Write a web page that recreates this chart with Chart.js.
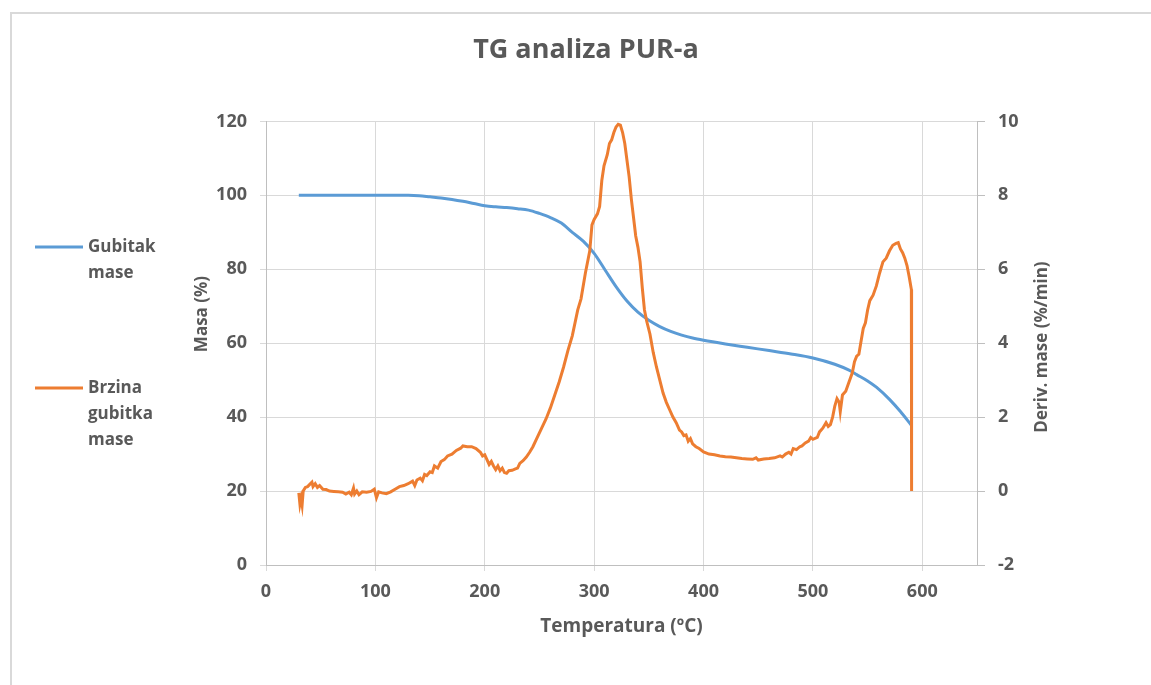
<!DOCTYPE html>
<html>
<head>
<meta charset="utf-8">
<script src="https://cdn.jsdelivr.net/npm/chart.js@4"></script>
<style>
  html, body { margin: 0; padding: 0; background: #fff; }
  #wrap { position: relative; width: 1151px; height: 685px; overflow: hidden; }
  #frame { position: absolute; left: 10px; top: 12px; width: 1150px; height: 680px; border: 2px solid #d9d9d9; box-sizing: border-box; }
  #tgChart { position: absolute; left: 0; top: 0; }
</style>
</head>
<body>
<div id="wrap">
  <div id="frame"></div>
  <canvas id="tgChart" width="1151" height="685"></canvas>
</div>
<script>
// mass loss curve (TG)
const masaTemp = [30, 60, 100, 130, 140, 150, 160, 170, 180, 190, 200, 210, 220, 230, 240, 250, 260, 270, 280, 290, 300, 310, 320, 330, 340, 350, 360, 370, 380, 390, 400, 420, 440, 460, 480, 500, 520, 533, 540, 550, 558, 570, 580, 590];
const masaVal  = [100, 100, 100, 100, 99.9, 99.6, 99.3, 98.9, 98.4, 97.8, 97.2, 96.9, 96.7, 96.4, 96.0, 95.1, 94.0, 92.5, 90.0, 87.6, 84.3, 79.8, 75.3, 71.4, 68.4, 66.2, 64.5, 63.2, 62.2, 61.4, 60.8, 59.8, 58.9, 58.0, 57.1, 56.0, 54.3, 52.7, 51.5, 49.8, 48.1, 44.8, 41.5, 37.8];

// derivative curve (DTG)
const derivTemp = [30, 31, 32, 33, 34, 36, 38, 40, 42, 43, 45, 47, 49, 52, 55, 58, 62, 66, 70, 73, 76, 78, 80, 81, 83, 85, 88, 92, 96, 99, 101, 103, 106, 110, 114, 118, 122, 126, 130, 134, 136, 138, 141, 143, 145, 147, 150, 152, 154, 157, 160, 163, 166, 170, 174, 178, 180, 184, 188, 192, 196, 198, 200, 202, 204, 206, 208, 210, 212, 214, 216, 218, 220, 222, 225, 228, 230, 232, 235, 238, 241, 244, 248, 252, 256, 260, 264, 268, 272, 276, 280, 285, 288, 292, 296, 298, 300, 303, 305, 307, 309, 312, 314, 316, 318, 320, 322, 324, 326, 328, 330, 332, 334, 336, 338, 340, 342, 344, 346, 348, 351, 354, 357, 360, 363, 366, 369, 372, 375, 378, 380, 382, 384, 386, 388, 390, 393, 396, 400, 405, 410, 415, 420, 425, 430, 435, 440, 445, 448, 450, 455, 460, 465, 470, 472, 475, 478, 480, 482, 485, 488, 490, 493, 496, 498, 500, 504, 506, 509, 512, 514, 516, 518, 520, 522, 524, 525, 527, 530, 533, 536, 538, 540, 542, 544, 546, 548, 550, 552, 555, 558, 561, 564, 567, 570, 573, 576, 578, 580, 582, 584, 586, 588, 590, 590.2];
const derivVal  = [-0.05, -0.35, -0.2, -0.38, 0.0, 0.1, 0.12, 0.18, 0.24, 0.12, 0.2, 0.1, 0.15, 0.05, 0.04, 0.0, -0.01, -0.02, -0.03, -0.08, -0.03, -0.1, 0.08, -0.08, 0.0, -0.1, -0.02, -0.03, -0.01, 0.05, -0.18, -0.02, -0.05, -0.07, -0.02, 0.05, 0.12, 0.15, 0.2, 0.27, 0.15, 0.3, 0.35, 0.28, 0.45, 0.42, 0.52, 0.5, 0.68, 0.62, 0.8, 0.85, 0.95, 1.0, 1.1, 1.16, 1.22, 1.2, 1.2, 1.15, 1.05, 0.95, 0.98, 0.85, 0.72, 0.8, 0.68, 0.58, 0.68, 0.55, 0.62, 0.5, 0.48, 0.55, 0.56, 0.6, 0.62, 0.75, 0.82, 0.92, 1.05, 1.2, 1.45, 1.7, 1.95, 2.25, 2.6, 2.95, 3.35, 3.8, 4.2, 4.9, 5.2, 5.9, 6.5, 7.2, 7.35, 7.5, 7.7, 8.4, 8.8, 9.1, 9.4, 9.5, 9.7, 9.85, 9.92, 9.9, 9.7, 9.4, 8.95, 8.5, 7.9, 7.4, 6.9, 6.6, 6.2, 5.5, 4.9, 4.6, 4.25, 3.75, 3.35, 3.0, 2.65, 2.4, 2.2, 2.0, 1.85, 1.65, 1.6, 1.5, 1.52, 1.35, 1.42, 1.28, 1.2, 1.15, 1.06, 1.0, 0.98, 0.95, 0.93, 0.92, 0.9, 0.88, 0.87, 0.86, 0.9, 0.84, 0.87, 0.88, 0.9, 0.95, 0.92, 1.0, 1.05, 1.0, 1.15, 1.12, 1.2, 1.22, 1.3, 1.35, 1.45, 1.4, 1.45, 1.6, 1.7, 1.85, 1.75, 1.8, 2.0, 2.3, 2.5, 2.4, 2.15, 2.6, 2.7, 2.95, 3.2, 3.5, 3.65, 3.7, 4.05, 4.4, 4.55, 4.9, 5.15, 5.3, 5.55, 5.9, 6.2, 6.3, 6.5, 6.65, 6.7, 6.72, 6.55, 6.45, 6.3, 6.1, 5.8, 5.45, 0];

const xTicksMax = 600;

const GREY = '#595959';
const FONT = '"Open Sans", sans-serif';

function toPoints(xs, ys){
  return xs.map((x, i) => ({x: x, y: ys[i]}));
}

// legend on the left + axis titles that read bottom to top
const sideText = {
  id: 'sideText',
  afterDraw(chart){
    const ctx = chart.ctx;
    const legendY = [247, 388];
    ctx.save();
    ctx.font = 'bold 17px ' + FONT;
    ctx.fillStyle = GREY;
    ctx.textBaseline = 'middle';
    chart.data.datasets.forEach((ds, i) => {
      const y0 = legendY[i];
      ctx.strokeStyle = ds.borderColor;
      ctx.lineWidth = 3;
      ctx.beginPath();
      ctx.moveTo(35, y0);
      ctx.lineTo(83, y0);
      ctx.stroke();
      ds.label.split(' ').forEach((w, j) => ctx.fillText(w, 88, y0 + j * 26));
    });

    ctx.font = 'bold 17px ' + FONT;
    ctx.textAlign = 'center';
    const titles = [
      {text: chart.options.scales.y.title.text, x: 202, y: 314},
      {text: chart.options.scales.y2.title.text, x: 1042, y: 347}
    ];
    titles.forEach(t => {
      ctx.save();
      ctx.translate(t.x, t.y);
      ctx.rotate(-Math.PI / 2);
      ctx.fillText(t.text, 0, 0);
      ctx.restore();
    });
    ctx.restore();
  }
};

const ctx = document.getElementById('tgChart');
const chart = new Chart(ctx, {
  type: 'line',
  data: {
    datasets: [{
      label: 'Gubitak mase',
      data: toPoints(masaTemp, masaVal),
      borderColor: '#5B9BD5',
      borderWidth: 3,
      pointRadius: 0,
      cubicInterpolationMode: 'monotone',
      yAxisID: 'y',
      order: 1
    }, {
      label: 'Brzina gubitka mase',
      data: toPoints(derivTemp, derivVal),
      borderColor: '#ED7D31',
      borderWidth: 3,
      pointRadius: 0,
      yAxisID: 'y2',
      order: 0
    }]
  },
  options: {
    responsive: false,
    animation: false,
    devicePixelRatio: 1,
    layout: {
      padding: { left: 100, right: 79, top: 0, bottom: 20 }
    },
    scales: {
      x: {
        type: 'linear',
        min: 0,
        max: 650,
        ticks: {
          stepSize: 100,
          color: GREY,
          padding: 10,
          font: { family: FONT, size: 18, weight: 'bold' }
        },
        afterBuildTicks: s => { s.ticks = s.ticks.filter(t => t.value <= xTicksMax); },
        afterFit: s => { s.height = 100; },
        grid: { color: '#d9d9d9', tickLength: 6 },
        border: { color: '#bfbfbf' },
        title: {
          display: true,
          text: 'Temperatura (ºC)',
          color: GREY,
          font: { family: FONT, size: 19, weight: 'bold' },
          padding: { top: 0, bottom: 27 }
        }
      },
      y: {
        position: 'left',
        min: 0,
        max: 120,
        ticks: {
          stepSize: 20,
          color: GREY,
          padding: 13,
          font: { family: FONT, size: 18, weight: 'bold' }
        },
        afterFit: s => { s.width = 166; },
        grid: { color: '#d9d9d9', tickLength: 6 },
        border: { color: '#bfbfbf' },
        title: { display: false, text: 'Masa (%)' }
      },
      y2: {
        position: 'right',
        min: -2,
        max: 10,
        ticks: {
          stepSize: 2,
          color: GREY,
          padding: 13,
          font: { family: FONT, size: 18, weight: 'bold' }
        },
        afterFit: s => { s.width = 95; },
        grid: { drawOnChartArea: false, color: '#bfbfbf', tickLength: 8 },
        border: { color: '#bfbfbf' },
        title: { display: false, text: 'Deriv. mase (%/min)' }
      }
    },
    plugins: {
      legend: { display: false },
      tooltip: { enabled: false },
      title: {
        display: true,
        text: 'TG analiza PUR-a',
        color: GREY,
        font: { family: FONT, size: 27, weight: 'bold' },
        padding: { top: 34, bottom: 55 }
      }
    }
  },
  plugins: [sideText]
});
</script>
</body>
</html>
